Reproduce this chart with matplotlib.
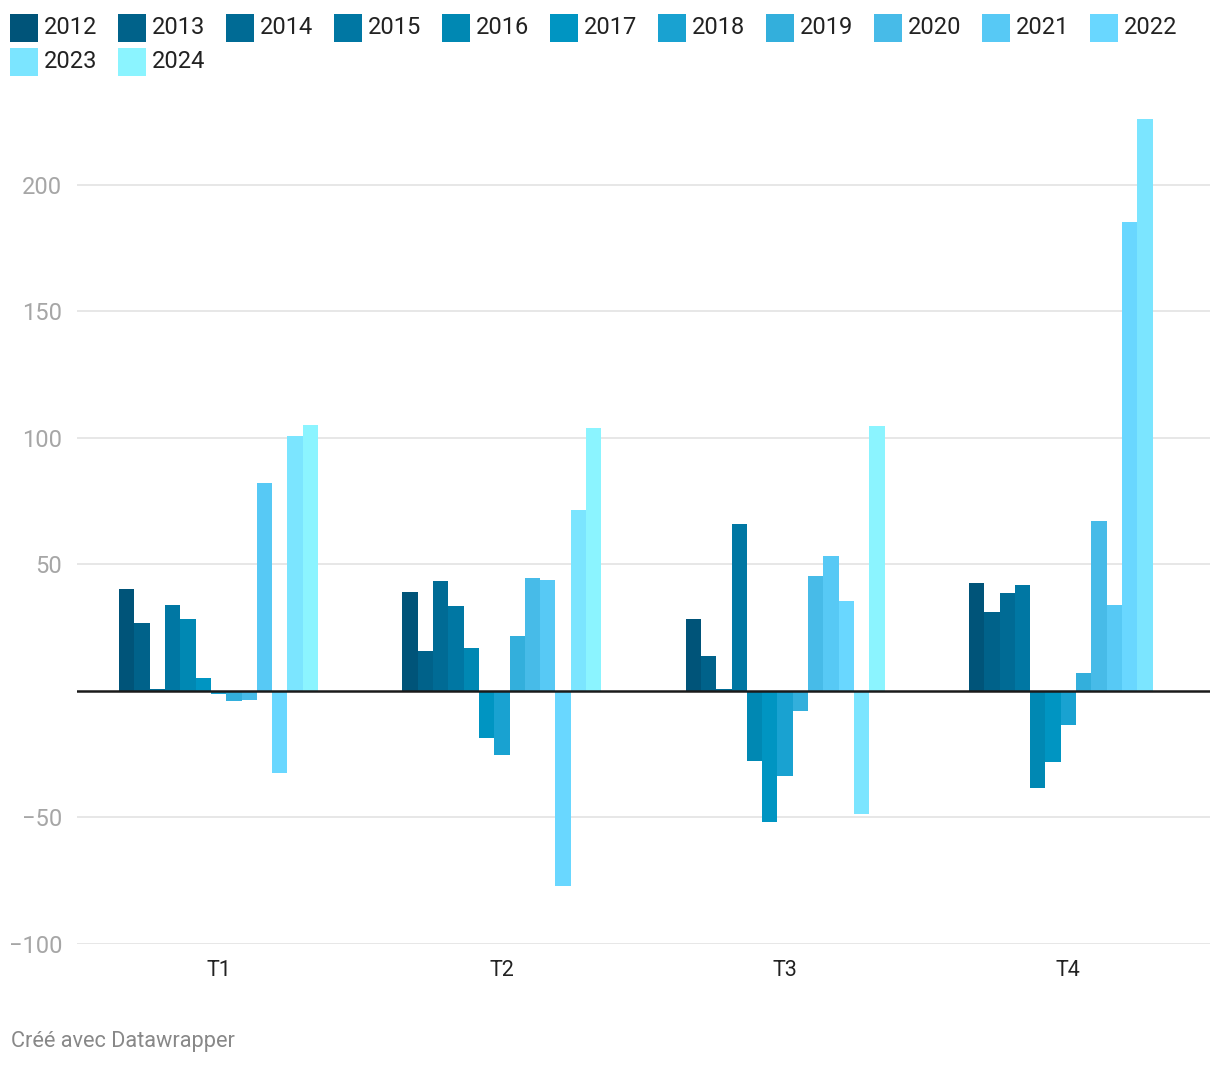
import numpy as np
import matplotlib
matplotlib.use("Agg")
import matplotlib.pyplot as plt
from matplotlib.patches import Rectangle

plt.rcParams['font.family'] = ['Roboto', 'DejaVu Sans']

quarters = ["T1", "T2", "T3", "T4"]
years = ["2012", "2013", "2014", "2015", "2016", "2017", "2018",
         "2019", "2020", "2021", "2022", "2023", "2024"]

v2012 = [40.3, 39.1, 28.5, 42.7]
v2013 = [26.9, 15.8, 13.8, 31.2]
v2014 = [0.7, 43.5, 0.6, 38.7]
v2015 = [34.0, 33.6, 66.0, 41.9]
v2016 = [28.5, 17.0, -27.7, -38.3]
v2017 = [5.1, -18.6, -51.8, -28.0]
v2018 = [-1.1, -25.3, -33.6, -13.4]
v2019 = [-4.0, 21.7, -7.9, 7.0]
v2020 = [-3.6, 44.7, 45.5, 67.0]
v2021 = [82.2, 43.9, 53.4, 34.0]
v2022 = [-32.4, -77.1, 35.6, 185.2]
v2023 = [100.8, 71.5, -48.6, 226.1]
v2024 = [105.1, 104.0, 104.7, np.nan]

series = [v2012, v2013, v2014, v2015, v2016, v2017, v2018,
          v2019, v2020, v2021, v2022, v2023, v2024]

colors = ["#005479", "#00628a", "#006b95", "#0077a3", "#0088b3", "#0095c2",
          "#19a2d1", "#33afdc", "#47bbe8", "#57c9f5", "#69d7ff", "#7be5ff",
          "#8bf4ff"]

W, H = 1220, 1066
fig = plt.figure(figsize=(W / 100, H / 100), dpi=100)

ax_left, ax_right = 77, 1210
ax_top, ax_bottom = 109, 944
ax = fig.add_axes([ax_left / W, (H - ax_bottom) / H,
                   (ax_right - ax_left) / W, (ax_bottom - ax_top) / H])

x = np.arange(len(quarters))
n = len(years)
bw = 0.054
for i, (vals, c) in enumerate(zip(series, colors)):
    ax.bar(x + (i - (n - 1) / 2) * bw, vals, width=bw, color=c,
           linewidth=0, zorder=3)

ax.set_xlim(-0.5, len(quarters) - 0.5)
ax.set_ylim(-100, 230)
ax.set_yticks([-100, -50, 50, 100, 150, 200])
ax.yaxis.grid(True, color="#e3e3e3", linewidth=1.2, zorder=0)
ax.axhline(0, color="#1a1a1a", linewidth=1.8, zorder=4)
ax.set_xticks(x)
ax.set_xticklabels(quarters, fontsize=15.5, color="#222222")
ax.tick_params(axis="x", length=0, pad=11.5)
ax.tick_params(axis="y", length=0, pad=10.5, labelsize=17, labelcolor="#a6a6a6")
for s in ax.spines.values():
    s.set_visible(False)

# legend (two rows)
x0, dx = 10, 108
row_top = [14, 48]
per_row = 11
for i, (yr, c) in enumerate(zip(years, colors)):
    r, k = divmod(i, per_row)
    lx = x0 + k * dx
    ty = row_top[r]
    fig.patches.append(Rectangle((lx / W, 1 - (ty + 28) / H), 28 / W, 28 / H,
                                 transform=fig.transFigure, color=c,
                                 linewidth=0))
    fig.text((lx + 34) / W, 1 - (ty + 20) / H, yr, fontsize=17,
             color="#222222", va="baseline", ha="left")

fig.text(11 / W, 1 - 1041 / H, "Créé avec Datawrapper", fontsize=15.7,
         color="#888888", va="center", ha="left")

fig.savefig("out.png", dpi=100, facecolor="white")
